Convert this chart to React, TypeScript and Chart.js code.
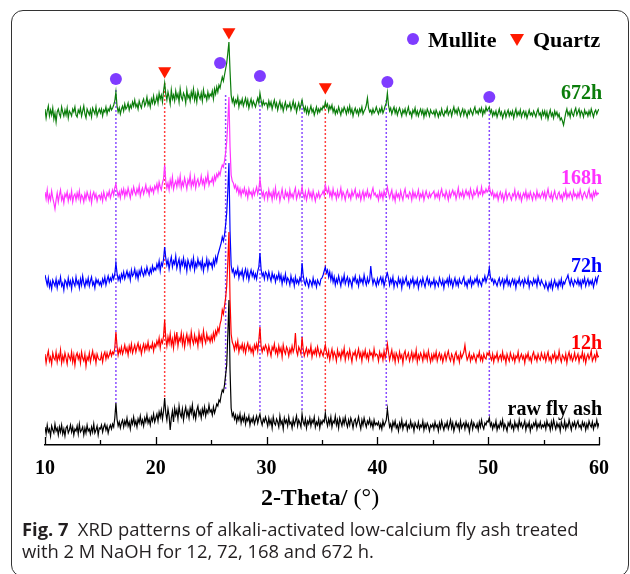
import React, { useEffect, useRef } from 'react';
import { Chart, registerables } from 'chart.js';

Chart.register(...registerables);

// sampling grid of the diffractograms: 10° to 60° in 0.1° steps (501 points)
const START_ANGLE = 10;
const STEP_ANGLE = 0.1;
const twoTheta: number[] = Array.from({ length: 501 }, (_, i) => +(START_ANGLE + i * STEP_ANGLE).toFixed(1));

// intensities (a.u., relative to each pattern's own baseline); one row = 5°
const rawFlyAsh = [
  3, -4, 5, -2, 1, -6, 4, 0, -3, 6, -1, 2, -5, 3, -2, 5, -4, 1, -6, 2, 4, -3, 0, 5, -2, 3, -5, 1, -1, 4, -4, 6, -2, 0, 3, -5, 2, -3, 5, -1, 1, -4, 3, -2, 6, -3, 0, 4, -5, 2,
  1, 5, -2, 3, 6, 0, 4, -3, 2, 5, 1, 6, 3, 12, 27, 11, 4, 8, 2, 7, 10, 3, 9, 5, 12, 4, 8, 1, 10, 6, 13, 5, 9, 3, 11, 7, 14, 6, 10, 4, 12, 8, 15, 7, 11, 5, 13, 9, 16, 8,
  12, 16, 9, 18, 13, 20, 11, 19, 32, 17, 10, 21, 14, 0, 12, 19, 8, 22, 15, 20, 11, 24, 16, 13, 21, 10, 18, 23, 14, 19, 12, 22, 17, 25, 13, 18, 11, 20, 24, 15, 19, 12, 21, 16, 23, 14, 20, 17, 25, 18,
  20, 15, 23, 17, 21, 26, 24, 30, 28, 35, 40, 38, 45, 55, 65, 95, 130, 60, 22, 14, 17, 11, 15, 8, 14, 10, 16, 7, 13, 9, 15, 6, 12, 9, 14, 5, 11, 8, 13, 6, 10, 14, 7, 12, 16, 9, 5, 11, 8, 13,
  9, 4, 12, 6, 10, 2, 13, 7, 5, 11, 8, 3, 14, 6, 9, 1, 12, 7, 10, 4, 13, 6, 8, 2, 11, 5, 9, 14, 4, 10, 7, 3, 16, 8, 5, 11, 2, 9, 6, 12, 4, 10, 7, 13, 3, 8, 5, 11, 2, 9,
  6, 10, 8, 17, 9, 4, 11, 6, 13, 3, 9, 7, 14, 5, 10, 2, 12, 8, 4, 11, 6, 13, 7, 3, 10, 5, 12, 8, 2, 9, 11, 4, 8, 13, 6, 1, 10, 5, 12, 7, 3, 9, 6, 11, 4, 8, 2, 10, 5, 7,
  5, 8, 2, 6, 1, 9, 4, 7, 10, 21, 11, 3, 6, 0, 8, 4, 9, 2, 5, -1, 7, 3, 10, 1, 6, 4, 8, 0, 5, 2, 9, 3, 6, -1, 7, 4, 2, 8, 1, 5, 3, 9, 0, 6, 2, 7, 4, -1, 5, 3,
  6, 1, 8, 3, 5, -1, 7, 2, 9, 4, 0, 6, 3, 8, 1, 5, 10, 2, 7, -1, 4, 8, 3, 6, 0, 9, 2, 5, 7, 1, 8, 3, 6, -2, 5, 9, 1, 7, 4, 2, 6, 0, 8, 3, 10, 4, 1, 7, 5, 9,
  8, 12, 4, 7, 1, 6, 3, 9, 0, 5, 2, 8, 4, 10, 1, 6, 3, -1, 7, 4, 9, 2, 5, 0, 8, 3, 6, 1, 10, 4, 7, 2, 5, 9, 0, 6, 3, 8, -1, 5, 2, 7, 4, 9, 1, 6, 3, 8, 2, 5,
  3, 7, 1, 9, 4, 6, 0, 8, 2, 10, 5, 1, 7, 3, 6, -1, 8, 4, 2, 9, 1, 6, 3, 10, 5, 0, 7, 4, 8, 2, 6, 9, 3, 5, 1, 8, 4, 7, 0, 6, 2, 9, 5, 3, 8, 1, 6, 4, 10, 3,
  7,
];
const h12 = [
  4, -5, 2, 7, -3, 1, -6, 5, 0, -2, 6, -4, 3, -1, 8, -5, 2, -3, 5, 0, -6, 4, 1, -2, 6, -4, 3, -7, 2, 5, -1, 3, -5, 6, 0, -3, 4, -8, 1, -2, 5, -4, 2, 7, -1, 3, -5, 4, 0, -2,
  -2, 4, -4, 3, 6, -1, 5, 0, 3, 7, 2, 6, 4, 10, 26, 12, 3, 9, 5, 11, 4, 8, 13, 6, 10, 3, 12, 7, 14, 5, 9, 13, 6, 11, 15, 8, 12, 4, 10, 14, 7, 13, 9, 16, 8, 12, 10, 15, 7, 14,
  11, 17, 13, 20, 10, 18, 15, 22, 38, 20, 12, 21, 15, 24, 13, 19, 10, 23, 16, 26, 12, 20, 17, 25, 14, 22, 11, 19, 24, 15, 21, 13, 26, 18, 14, 23, 16, 20, 12, 25, 17, 22, 14, 27, 19, 15, 24, 18, 21, 16,
  22, 17, 25, 19, 27, 23, 30, 26, 34, 38, 48, 44, 52, 60, 72, 96, 126, 58, 24, 16, 13, 8, 15, 10, 17, 6, 12, 9, 14, 7, 13, 5, 11, 15, 8, 12, 6, 10, 4, 13, 9, 14, 7, 18, 31, 12, 6, 11, 8, 13,
  10, 4, 12, 7, 2, 11, 8, 14, 5, 9, 3, 12, 6, 10, 1, 13, 7, 4, 11, 8, 2, 9, 5, 12, 6, 10, 25, 7, 3, 11, 8, 4, 21, 9, 2, 6, 10, 3, 8, 5, 12, 1, 7, 4, 9, 3, 11, 6, 2, 8,
  5, 2, 8, 13, 6, 1, 7, -2, 4, 9, 0, 6, 3, -3, 8, 2, 5, -1, 7, 3, 10, -2, 4, 6, 0, 8, 2, -4, 5, 3, 7, -1, 4, 9, 1, 5, -3, 6, 2, 8, 0, 4, -2, 7, 3, 5, -1, 9, 2, 4,
  3, -3, 6, 1, 4, -2, 7, 0, 5, 14, 6, -2, 3, 8, -1, 4, -4, 5, 2, -3, 6, 0, 3, -5, 4, 7, -1, 2, 5, -3, 1, 6, -2, 4, 0, 8, -4, 3, -1, 5, 2, -3, 6, 0, 4, -2, 7, 1, -4, 3,
  -2, 4, 0, 6, -3, 2, 5, -1, 3, -4, 1, 5, -2, 3, 7, 0, -3, 4, 1, -5, 3, 6, -1, 2, -4, 5, 0, 3, 6, 13, 4, -2, 1, 5, -3, 2, -1, 4, 0, -4, 3, 1, 6, -2, 2, -3, 4, 0, -1, 5,
  3, 6, 1, -2, 4, -4, 2, 0, 5, -3, 1, 3, -2, 6, -1, 2, -5, 4, 0, -3, 5, 1, -2, 3, -4, 2, 0, 6, -3, 1, 4, -1, 2, -5, 3, 0, 5, -2, 1, -4, 3, 6, -1, 2, -3, 4, 0, -2, 5, 1,
  -1, 4, -3, 2, 6, -2, 1, -4, 3, 0, 5, -3, 2, -1, 7, 0, -4, 3, 1, -2, 4, -5, 2, 6, -1, 3, -3, 0, 5, -2, 1, 4, -4, 2, 0, 6, -2, 3, -5, 1, 4, -1, 2, 7, -3, 0, 3, -2, 6, 1,
  2,
];
const h72 = [
  8, 3, -2, 5, -4, 1, -6, 3, 0, -3, 4, -5, 2, -1, 6, -3, 0, -7, 3, 1, -4, 5, -2, 2, -6, 4, 0, -3, 6, -1, 2, -5, 4, -2, 7, 0, -4, 3, -1, 5, -3, 2, 6, -2, 1, -5, 4, 0, 3, -2,
  1, -3, 4, 0, 6, -2, 3, 7, 1, 5, 2, 8, 4, 9, 20, 10, 3, 7, 2, 9, 5, 11, 4, 8, 12, 6, 10, 3, 13, 7, 9, 14, 6, 11, 4, 12, 8, 15, 10, 7, 13, 9, 16, 11, 8, 14, 10, 17, 12, 15,
  13, 19, 15, 22, 12, 20, 17, 24, 36, 25, 18, 23, 14, 21, 26, 16, 22, 19, 27, 15, 20, 24, 13, 22, 18, 25, 16, 21, 12, 23, 19, 14, 22, 17, 25, 13, 20, 16, 24, 18, 21, 15, 23, 12, 19, 17, 24, 14, 22, 18,
  20, 15, 23, 18, 26, 21, 28, 32, 36, 40, 46, 42, 48, 58, 70, 92, 120, 52, 18, 11, 14, 7, 12, 9, 15, 5, 11, 8, 13, 4, 10, 14, 6, 12, 3, 9, 13, 7, 11, 5, 9, 4, 12, 16, 30, 14, 7, 10, 4, 11,
  9, 4, 11, 6, 2, 10, 5, 8, 1, 7, 4, 10, 3, 8, -1, 6, 2, 9, 0, 5, 3, -2, 7, 1, 4, -3, 6, 0, 3, -1, 5, 2, 20, 8, 1, -2, 4, 0, -4, 3, 1, -3, 5, -1, 2, -4, 3, 0, -2, 4,
  5, 8, 12, 16, 10, 13, 6, 11, 3, 9, 1, 6, -2, 4, 0, 7, 2, -3, 5, 1, 8, -1, 3, 6, -2, 4, 1, -4, 5, 2, 7, 0, 3, -3, 6, 1, 4, -1, 8, 2, -2, 5, 0, 3, 17, 6, -1, 4, 1, -3,
  4, -1, 3, 6, 0, 5, -3, 2, 7, 10, 5, -2, 4, 0, 6, -4, 2, 1, -3, 5, 0, 3, -5, 4, -1, 2, 6, -2, 1, -4, 3, 0, 5, -3, 2, -1, 4, -5, 1, 3, -2, 5, 0, -4, 2, 6, -1, 3, -3, 1,
  -1, 4, -4, 2, 0, -3, 5, 1, -2, 3, -5, 2, 0, 4, -2, 6, -1, 3, -4, 1, 5, -2, 2, -3, 4, 0, -1, 3, 6, -2, 1, -4, 3, 0, 5, -3, 2, -1, 4, 1, 6, -2, 3, 0, -3, 4, 2, 7, 1, 5,
  8, 15, 6, 2, 4, -1, 3, 0, -3, 2, 5, -2, 1, 4, -4, 3, 0, 6, -2, 2, -3, 1, 4, -1, 3, -5, 2, 0, 5, -2, 1, 3, -3, 4, 0, -1, 5, -4, 2, 1, -2, 4, 0, 3, -3, 6, 1, -2, 3, 0,
  -2, -5, 1, -3, -7, 0, -4, 2, -6, -1, 3, -3, 0, -5, 2, -2, 4, -4, 1, -1, 3, 5, 8, 2, -2, 4, 0, -3, 3, 1, -1, 4, -2, 2, -4, 3, 0, 5, -3, 1, 4, -2, 2, -1, 3, -4, 1, 5, 0, 6,
  8,
];
const h168 = [
  5, -2, 7, -4, 2, -3, 6, -1, -6, -12, -3, 4, -5, 2, 7, -3, 1, -6, 3, 0, 5, -4, 2, -2, 6, -5, 1, 3, -3, 4, -1, 6, -4, 2, 0, -5, 3, -2, 5, 1, -3, 4, -6, 2, 5, -1, 3, -4, 1, 2,
  -2, 3, -4, 5, 0, -3, 4, 1, 6, -1, 3, 7, 2, 9, 13, 6, 1, 5, -1, 7, 3, 8, 0, 6, 2, 9, 4, -1, 7, 3, 10, 5, 2, 8, 4, 11, 1, 6, 9, 3, 7, 12, 5, 8, 2, 10, 6, 9, 4, 11,
  8, 13, 6, 15, 10, 7, 14, 18, 32, 16, 9, 14, 7, 17, 11, 20, 8, 13, 16, 10, 18, 12, 21, 9, 15, 11, 19, 14, 8, 17, 13, 22, 10, 16, 12, 20, 9, 15, 18, 11, 14, 21, 13, 17, 10, 19, 15, 23, 12, 16,
  15, 19, 13, 21, 17, 23, 20, 25, 22, 28, 32, 30, 36, 44, 55, 75, 100, 50, 22, 16, 14, 9, 12, 6, 10, 3, 8, 1, 7, 4, 9, 2, 6, -1, 8, 3, 5, 0, 7, 2, 6, 10, 3, 8, 18, 9, 1, 5, -2, 4,
  5, -2, 7, 1, 4, -3, 6, 0, 9, -1, 3, 5, -4, 2, 8, 0, -2, 6, 1, 4, -3, 7, 0, 3, -1, 5, 9, -2, 2, 6, 0, 4, 10, 3, -1, 5, -3, 2, 7, 0, 4, -2, 6, 1, -4, 3, 0, 5, -1, 2,
  3, 6, 2, 12, 7, 4, 9, 1, 5, -1, 8, 2, 4, -2, 6, 0, 3, 9, -1, 5, 2, -3, 4, 7, 0, 3, -2, 6, 1, 4, 8, -1, 3, 0, 5, -3, 2, 6, -2, 4, 1, 7, 0, 3, -1, 5, 9, 2, 4, 0,
  2, -3, 5, 0, 4, -2, 6, 1, 3, 10, 4, -1, 3, 7, -2, 2, -4, 5, 0, 3, -2, 6, 1, -3, 4, 8, 0, 2, -1, 5, 3, -3, 6, 0, 4, -1, 2, 7, -2, 3, 0, 5, -3, 2, 6, 1, -1, 4, 0, 3,
  4, 6, -1, 3, 0, 5, -2, 4, 8, 1, 3, -1, 6, 2, -3, 5, 0, 4, 7, 2, 5, -2, 3, 9, 0, 4, 1, 6, -1, 3, 7, 2, 5, 0, 8, 3, -1, 6, 2, 4, 9, 1, 5, 3, 10, 2, 6, 4, 8, 5,
  7, 11, 5, 2, 6, -1, 3, 0, 4, -3, 2, 5, -1, 3, -4, 1, 6, -2, 2, 4, 0, -3, 3, 1, 7, -2, 2, 5, -1, 3, -4, 1, 4, 0, 6, -2, 3, -1, 5, 1, -3, 4, 2, -2, 6, 0, 3, -1, 2, 5,
  0, 5, -2, 3, 8, 1, -1, 4, -3, 2, 6, 0, -2, 3, 5, -1, 2, -3, 4, 1, 7, -1, 3, 0, 5, 2, -2, 6, 1, 3, -1, 4, 0, 7, 2, -2, 3, 5, 1, -1, 4, 8, 0, 3, -2, 5, 1, 6, 2, 4,
  3,
];
const h672 = [
  6, -3, 4, 9, -1, 5, 0, 7, -4, 2, -7, 3, 6, 1, -2, 8, 3, -1, 5, 0, 7, -3, 4, 2, -1, 6, 3, 8, 0, -2, 5, 2, 7, -1, 4, 9, 1, -3, 6, 3, 0, 5, -2, 7, 4, 1, 8, -1, 3, 6,
  2, 6, -1, 5, 3, 8, 1, 6, 4, 9, 5, 7, 10, 14, 23, 9, 3, 7, 1, 6, 9, 4, 11, 6, 8, 12, 5, 10, 7, 13, 9, 15, 8, 11, 6, 14, 10, 7, 13, 16, 9, 12, 18, 10, 14, 8, 16, 12, 19, 11,
  14, 19, 12, 22, 16, 20, 13, 24, 32, 21, 15, 23, 18, 11, 25, 16, 20, 14, 24, 17, 21, 13, 26, 18, 15, 22, 19, 12, 25, 17, 20, 14, 23, 18, 26, 15, 21, 13, 24, 19, 16, 22, 14, 25, 18, 20, 15, 23, 17, 21,
  19, 24, 16, 26, 21, 28, 23, 30, 27, 33, 38, 34, 40, 46, 52, 62, 73, 44, 20, 13, 17, 10, 15, 12, 18, 8, 14, 11, 16, 9, 13, 17, 10, 15, 7, 12, 16, 9, 14, 11, 8, 13, 17, 12, 22, 15, 9, 14, 10, 12,
  12, 7, 14, 9, 13, 6, 11, 15, 8, 12, 5, 10, 14, 7, 11, 4, 9, 13, 6, 10, 8, 12, 5, 9, 14, 7, 11, 3, 8, 12, 6, 10, 15, 9, 4, 8, 2, 7, 1, 5, 9, 3, 6, 0, 4, 8, 2, 6, 3, 7,
  5, 9, 7, 13, 8, 11, 4, 9, 6, 10, 3, 7, 1, 5, 2, 8, 4, 0, 6, 3, 8, 5, 1, 7, 3, 9, 2, 6, -1, 4, 7, 2, 5, 0, 6, 3, 8, 1, 4, 6, 10, 17, 7, 3, 5, 1, 6, 2, 4, 8,
  4, 1, 6, 3, 8, 2, 5, 9, 12, 22, 10, 4, 7, 1, 5, 8, 2, 6, 0, 4, 7, 3, -1, 5, 2, 6, 0, 4, 8, 1, 3, -2, 5, 2, 7, 0, 4, -1, 3, 6, 1, 5, -2, 4, 0, 6, 3, -1, 5, 2,
  1, 4, -1, 5, 2, -2, 3, 0, 6, 1, -1, 4, 2, 7, 0, 3, 5, -1, 4, 8, 2, 5, 1, 7, 4, -1, 3, 6, 0, 5, 2, -2, 4, 1, 6, 3, 0, 5, 8, 2, 4, 1, 6, 3, 7, 0, 5, 2, 8, 4,
  6, 8, 2, 5, -1, 3, 0, 4, -2, 2, 6, 0, 3, -3, 1, 4, -2, 2, 5, -1, 3, 0, 4, -3, 2, 6, -1, 3, 0, 5, -2, 2, 4, -1, 3, -3, 1, 5, 0, 2, -1, 4, 1, -2, 3, 6, 0, 2, -3, 4,
  0, 4, -2, 3, -4, 1, 5, -1, 2, -3, 4, 0, 3, -2, 1, -5, -3, -6, -10, -4, 2, 6, 0, 3, -2, 5, 1, -1, 4, 7, 0, 3, 6, -1, 4, 2, -2, 5, 1, 3, -1, 4, 0, 6, 2, -2, 3, 5, 1, 4,
  6,
];

const seriesNames = ['raw fly ash', '12h', '72h', '168h', '672h'];
const seriesValues = [rawFlyAsh, h12, h72, h168, h672];
const seriesColors = ['#000000', '#ff0000', '#0000ff', '#ff33ff', '#0b7d0b'];
const seriesOffsets = [15, 87, 162, 248, 330]; // vertical stacking offsets
const seriesLabelY = [30, 96, 173, 261, 346];

// phase markers
const mulliteAngles = [16.4, 25.8, 29.4, 40.9, 50.1];
const mulliteMarkY = [366, 382, 369, 363, 348];
const quartzAngles = [20.8, 26.6, 35.3];
const quartzMarkY = [374, 413, 358];

// dotted reference lines
const guideAngles = [16.4, 20.8, 26.3, 29.4, 33.2, 35.3, 40.8, 50.1];
const guidePhase = ['Mullite', 'Quartz', 'Mullite', 'Mullite', 'Mullite', 'Quartz', 'Mullite', 'Mullite'];
const guideTop = [355, 362, 350, 348, 345, 340, 345, 335];
const guideBottom = [42, 47, 55, 33, 33, 32, 36, 25];

const xMin = 10;
const xMax = 60;
const xStep = 5;
const yMin = 0;
const yMax = 435;

const MULLITE_COLOR = '#7f3cff';
const QUARTZ_COLOR = '#ff1a00';
const SERIF = '"Liberation Serif", "Times New Roman", serif';

const decorPlugin = {
  id: 'decor',
  afterDraw(chart: any) {
    const { ctx, chartArea, scales } = chart;
    const x = scales.x;
    const y = scales.y;
    ctx.save();
    // inward tick marks
    ctx.strokeStyle = '#000';
    ctx.lineWidth = 1.3;
    x.ticks.forEach((t: any) => {
      const px = Math.round(x.getPixelForValue(t.value)) + 0.5;
      const len = t.value % 10 === 0 ? 8 : 5;
      ctx.beginPath();
      ctx.moveTo(px, chartArea.bottom);
      ctx.lineTo(px, chartArea.bottom - len);
      ctx.stroke();
    });
    // series labels
    ctx.font = `bold 20px ${SERIF}`;
    ctx.textAlign = 'right';
    ctx.textBaseline = 'alphabetic';
    seriesNames.forEach((n, i) => {
      ctx.fillStyle = seriesColors[i];
      ctx.fillText(n, chartArea.right + 3, y.getPixelForValue(seriesLabelY[i]));
    });
    // legend
    const lx = chartArea.right - 186;
    const ly = chartArea.top + 29;
    ctx.fillStyle = MULLITE_COLOR;
    ctx.beginPath();
    ctx.arc(lx, ly, 6, 0, Math.PI * 2);
    ctx.fill();
    ctx.font = `bold 22px ${SERIF}`;
    ctx.textAlign = 'left';
    ctx.fillStyle = '#000';
    ctx.fillText('Mullite', lx + 15, ly + 8);
    const tx = lx + 104;
    ctx.fillStyle = QUARTZ_COLOR;
    ctx.beginPath();
    ctx.moveTo(tx - 7, ly - 5);
    ctx.lineTo(tx + 7, ly - 5);
    ctx.lineTo(tx, ly + 7);
    ctx.closePath();
    ctx.fill();
    ctx.fillStyle = '#000';
    ctx.fillText('Quartz', tx + 16, ly + 8);
    // axis title
    const t1 = '2-Theta/';
    const t2 = ' (°)';
    ctx.font = `bold 24px ${SERIF}`;
    const w1 = ctx.measureText(t1).width;
    ctx.font = `24px ${SERIF}`;
    const w2 = ctx.measureText(t2).width;
    const cx = (chartArea.left + chartArea.right) / 2 - 2;
    const startX = cx - (w1 + w2) / 2;
    ctx.textAlign = 'left';
    ctx.font = `bold 24px ${SERIF}`;
    ctx.fillText(t1, startX, chartArea.bottom + 60);
    ctx.font = `24px ${SERIF}`;
    ctx.fillText(t2, startX + w1, chartArea.bottom + 60);
    ctx.restore();
  },
};

export default function App() {
  const canvasRef = useRef<HTMLCanvasElement | null>(null);

  useEffect(() => {
    const canvas = canvasRef.current;
    if (!canvas) return;

    const traceSets = seriesValues.map((vals, s) => ({
      type: 'line' as const,
      label: seriesNames[s],
      data: vals.map((v, i) => ({ x: twoTheta[i], y: seriesOffsets[s] + v })),
      borderColor: seriesColors[s],
      borderWidth: 1.2,
      pointRadius: 0,
      tension: 0,
      fill: false,
    }));

    const guideSets = guideAngles.map((a, i) => ({
      type: 'line' as const,
      label: 'guide' + i,
      data: [
        { x: a, y: guideTop[i] },
        { x: a, y: guideBottom[i] },
      ],
      borderColor: guidePhase[i] === 'Quartz' ? '#ff4040' : '#8a4dff',
      borderWidth: 1.5,
      borderDash: [2, 2],
      pointRadius: 0,
      fill: false,
    }));

    const markerSets = [
      {
        type: 'scatter' as const,
        label: 'Mullite',
        data: mulliteAngles.map((a, i) => ({ x: a, y: mulliteMarkY[i] })),
        pointStyle: 'circle',
        pointRadius: 6,
        backgroundColor: MULLITE_COLOR,
        borderColor: MULLITE_COLOR,
        borderWidth: 0,
      },
      {
        type: 'scatter' as const,
        label: 'Quartz',
        data: quartzAngles.map((a, i) => ({ x: a, y: quartzMarkY[i] })),
        pointStyle: 'triangle',
        rotation: 180,
        pointRadius: 7.5,
        backgroundColor: QUARTZ_COLOR,
        borderColor: QUARTZ_COLOR,
        borderWidth: 0,
      },
    ];

    const chart = new Chart(canvas, {
      type: 'line',
      data: { datasets: [...markerSets, ...traceSets, ...guideSets] as any },
      options: {
        animation: false,
        responsive: false,
        maintainAspectRatio: false,
        layout: { padding: { left: 45, right: 31, top: 10, bottom: 0 } },
        plugins: { legend: { display: false }, tooltip: { enabled: false }, title: { display: false } },
        scales: {
          x: {
            type: 'linear',
            min: xMin,
            max: xMax,
            grid: { display: false, drawTicks: false },
            border: { display: true, color: '#000', width: 1.5 },
            afterFit: (scale: any) => {
              scale.height = 129;
            },
            ticks: {
              stepSize: xStep,
              autoSkip: false,
              maxRotation: 0,
              padding: 12,
              color: '#000',
              font: { family: SERIF, size: 20, weight: 'bold' },
              callback: (v: any) => (Number(v) % 10 === 0 ? String(v) : ''),
            },
          },
          y: { type: 'linear', display: false, min: yMin, max: yMax },
        },
      },
      plugins: [decorPlugin],
    } as any);

    return () => chart.destroy();
  }, []);

  return (
    <div style={{ position: 'fixed', left: 0, top: 0, width: 630, height: 574, overflow: 'hidden', background: '#fff' }}>
      <div
        style={{
          position: 'absolute',
          left: 11,
          top: 10,
          width: 618,
          height: 567,
          border: '1.5px solid #333',
          borderRadius: 12,
          boxSizing: 'border-box',
        }}
      />
      <canvas ref={canvasRef} width={630} height={574} style={{ position: 'absolute', left: 0, top: 0, width: 630, height: 574 }} />
      <div
        style={{
          position: 'absolute',
          left: 22,
          top: 518,
          font: '18.4px "Open Sans", sans-serif',
          lineHeight: '22px',
          color: '#231f20',
          whiteSpace: 'nowrap',
        }}
      >
        <div>
          <b>Fig. 7</b>&ensp;XRD patterns of alkali-activated low-calcium fly ash treated
        </div>
        <div>with 2 M NaOH for 12, 72, 168 and 672 h.</div>
      </div>
    </div>
  );
}
